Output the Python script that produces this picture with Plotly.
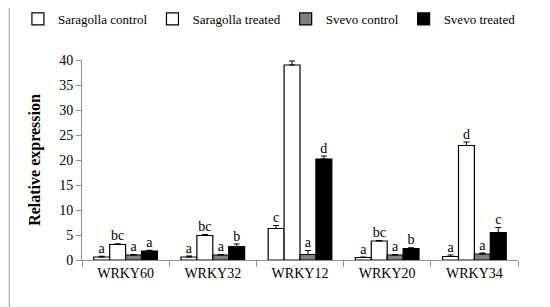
import plotly.graph_objects as go

genes = ["WRKY60", "WRKY32", "WRKY12", "WRKY20", "WRKY34"]

sar_ctrl = [0.6, 0.6, 6.3, 0.5, 0.7]
sar_ctrl_err = [0.15, 0.2, 0.6, 0.1, 0.3]
sar_ctrl_lbl = ["a", "a", "c", "a", "a"]

sar_trt = [3.1, 4.9, 39.0, 3.8, 22.9]
sar_trt_err = [0.15, 0.2, 0.8, 0.1, 0.7]
sar_trt_lbl = ["bc", "bc", "e", "bc", "d"]

sve_ctrl = [1.0, 1.0, 1.1, 1.0, 1.2]
sve_ctrl_err = [0.1, 0.1, 0.8, 0.1, 0.2]
sve_ctrl_lbl = ["a", "a", "a", "a", "a"]

sve_trt = [1.8, 2.7, 20.2, 2.3, 5.5]
sve_trt_err = [0.15, 0.5, 0.6, 0.15, 1.0]
sve_trt_lbl = ["a", "b", "d", "b", "c"]

serif = "Liberation Serif"

series = [
    ("Saragolla control", sar_ctrl, sar_ctrl_err, sar_ctrl_lbl, "white"),
    ("Saragolla treated", sar_trt, sar_trt_err, sar_trt_lbl, "white"),
    ("Svevo control", sve_ctrl, sve_ctrl_err, sve_ctrl_lbl, "#808080"),
    ("Svevo treated", sve_trt, sve_trt_err, sve_trt_lbl, "black"),
]

fig = go.Figure()
for i, (name, vals, errs, lbls, color) in enumerate(series):
    fig.add_trace(go.Bar(
        x=genes, y=vals, name=name, offsetgroup=str(i),
        marker=dict(color=color, line=dict(color="black", width=1.2)),
        error_y=dict(type="data", array=errs, arrayminus=[0] * len(errs),
                     symmetric=False, color="black", thickness=1, width=3),
    ))
    # significance letters sit just above the error bar
    fig.add_trace(go.Scatter(
        x=genes, y=[v + e for v, e in zip(vals, errs)], offsetgroup=str(i),
        mode="text", text=lbls, textposition="top center",
        textfont=dict(family=serif, size=14, color="black"),
        showlegend=False, hoverinfo="skip",
    ))

# the page body adds an 8px margin, so the margins below are shifted by that
fig.update_layout(
    width=550, height=307,
    margin=dict(l=74, r=40, t=52, b=55, autoexpand=False),
    paper_bgcolor="white", plot_bgcolor="white",
    barmode="group", bargap=0.27, bargroupgap=0,
    scattermode="group", scattergap=0.27,
    font=dict(family=serif, size=14, color="black"),
    legend=dict(orientation="h", x=-0.147, xanchor="left", y=1.205, yanchor="middle",
                font=dict(family=serif, size=13), itemwidth=30, tracegroupgap=0,
                bgcolor="rgba(0,0,0,0)"),
    showlegend=True,
    shapes=[
        dict(type="line", xref="paper", yref="paper", x0=-0.167, x1=-0.167, y0=-0.3, y1=1.35,
             line=dict(color="#a0a0a0", width=1)),
        dict(type="line", xref="paper", yref="paper", x0=1.057, x1=1.057, y0=-0.3, y1=1.35,
             line=dict(color="#a0a0a0", width=1)),
    ],
)
fig.update_xaxes(
    showline=True, linecolor="#909090", linewidth=1,
    ticks="outside", tickson="boundaries", ticklen=6, tickcolor="#909090",
    tickfont=dict(family=serif, size=14), showgrid=False,
)
fig.update_yaxes(
    range=[0, 40], dtick=5, showline=True, linecolor="#909090", linewidth=1,
    ticks="outside", ticklen=5, tickcolor="#909090", showgrid=False, zeroline=False,
    tickfont=dict(family=serif, size=14),
    title=dict(text="<b>Relative expression</b>", font=dict(family=serif, size=16), standoff=14),
)

fig.write_html("out.html")
